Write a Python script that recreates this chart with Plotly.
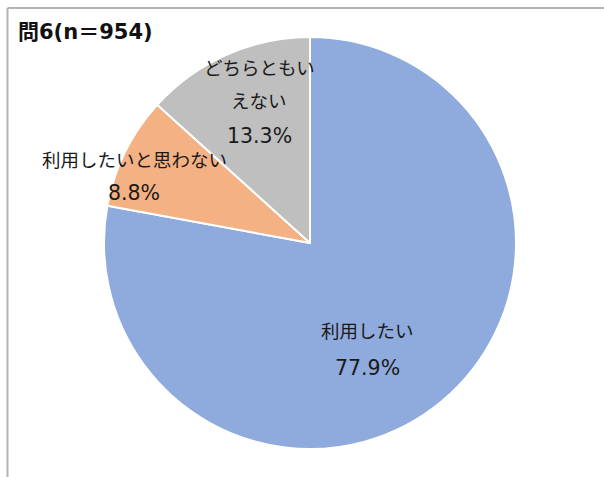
import plotly.graph_objects as go

W, H = 604, 477

categories = ["利用したい", "利用したいと思わない", "どちらともいえない"]
values = [77.9, 8.8, 13.3]
colors = ["#8FAADC", "#F4B183", "#BFBFBF"]
title_text = "問6(n＝954)"

# label lines (display wrapping as in the reference)
label_lines = [
    ["利用したい"],
    ["利用したいと思わない"],
    ["どちらともい", "えない"],
]
# label anchor (pixel) positions: center x, first-line y, line step
label_pos = [
    (367, 331, 37),
    (134, 160, 33),
    (259, 68, 34),
]

FONT = "DejaVu Sans, Noto Sans CJK JP, sans-serif"

fig = go.Figure()
fig.add_trace(go.Pie(
    labels=categories,
    values=values,
    sort=False,
    direction="clockwise",
    rotation=0,
    marker=dict(colors=colors, line=dict(color="white", width=2)),
    textinfo="none",
    hoverinfo="label+percent",
    showlegend=False,
    domain=dict(x=[104 / W, 516 / W], y=[1 - 449 / H, 1 - 37 / H]),
))

def px(x, y):
    return x / W, 1 - y / H

annotations = []
for cat, val, lines, (cx, y0, step) in zip(categories, values, label_lines, label_pos):
    texts = [(t, 18.5) for t in lines] + [(f"{val:.1f}%", 20.5)]
    for i, (t, sz) in enumerate(texts):
        ax, ay = px(cx, y0 + i * step)
        annotations.append(dict(
            x=ax, y=ay, xref="paper", yref="paper", text=t, showarrow=False,
            xanchor="center", yanchor="middle",
            font=dict(family=FONT, size=sz, color="#1a1a1a"),
        ))

tx, ty = px(16, 32)
annotations.append(dict(
    x=tx, y=ty, xref="paper", yref="paper", text=f"<b>{title_text}</b>",
    showarrow=False, xanchor="left", yanchor="middle",
    font=dict(family=FONT, size=21, color="#111111"),
))

shapes = [
    dict(type="line", xref="paper", yref="paper", x0=7.5 / W, x1=1.02, y0=1 - 8 / H, y1=1 - 8 / H,
         line=dict(color="#B4B4B4", width=2)),
    dict(type="line", xref="paper", yref="paper", x0=7.5 / W, x1=7.5 / W, y0=1 - 8 / H, y1=-0.02,
         line=dict(color="#B4B4B4", width=2)),
]

fig.update_layout(
    width=W, height=H,
    margin=dict(l=0, r=0, t=0, b=0),
    paper_bgcolor="white",
    plot_bgcolor="white",
    annotations=annotations,
    shapes=shapes,
)

fig.write_html(
    "out.html",
    config={"displayModeBar": False},
    post_script="document.body.style.margin='0';document.body.style.overflow='hidden';",
)
